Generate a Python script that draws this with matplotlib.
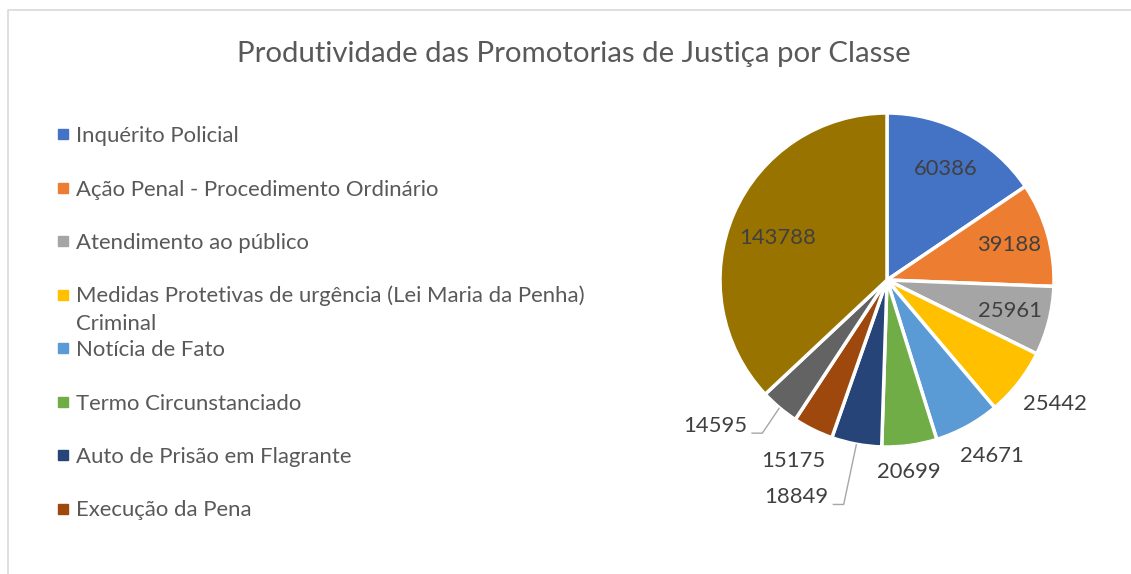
import numpy as np
import matplotlib.pyplot as plt

# dados
categorias = [
    "Inquérito Policial",
    "Ação Penal - Procedimento Ordinário",
    "Atendimento ao público",
    "Medidas Protetivas de urgência (Lei Maria da Penha)\nCriminal",
    "Notícia de Fato",
    "Termo Circunstanciado",
    "Auto de Prisão em Flagrante",
    "Execução da Pena",
    "Categoria 9",
    "Categoria 10",
]
valores = [60386, 39188, 25961, 25442, 24671, 20699, 18849, 15175, 14595, 143788]
cores = ["#4472C4", "#ED7D31", "#A5A5A5", "#FFC000", "#5B9BD5",
         "#70AD47", "#264478", "#9E480E", "#636363", "#997300"]
n_legenda = 8  # only the first 8 entries fit in the legend box

W, H = 1131, 574
fonte = "Lato"

fig = plt.figure(figsize=(W / 100, H / 100), dpi=100)
ax = fig.add_axes([0, 0, 1, 1])

# pie in pixel coordinates (y up)
cx, cy, R = 887, H - 280, 167
wedges, _ = ax.pie(valores, colors=cores, startangle=90, counterclock=False,
                   center=(cx, cy), radius=R,
                   wedgeprops=dict(edgecolor="white", linewidth=2.5))
ax.set_xlim(0, W)
ax.set_ylim(0, H)
ax.set_aspect("equal")
ax.axis("off")

# label placement: (radius factor, angle offset in degrees, leader line)
coloc = [(0.75, 0, False), (0.76, 0, False), (0.76, 0, False),
         (1.25, 1.5, False), (1.23, 2, False), (1.16, -1.3, False),
         (1.41, -12, True), (1.22, -1, False), (1.35, -9.5, True),
         (0.70, 2.5, False)]

for w, v, (f, da, linha) in zip(wedges, valores, coloc):
    meio = (w.theta1 + w.theta2) / 2
    a = np.radians(meio + da)
    tx, ty = cx + f * R * np.cos(a), cy + f * R * np.sin(a)
    ax.text(tx, ty, str(v), ha="center", va="center", fontsize=15.8,
            family=fonte, color="#404040")
    if linha:
        am = np.radians(meio)
        x0, y0 = cx + R * np.cos(am), cy + R * np.sin(am)
        ax.plot([x0, tx + 47, tx + 36], [y0, ty - 7, ty - 7],
                color="#A6A6A6", lw=1, solid_capstyle="butt")

# title
ax.text(574, H - 62, "Produtividade das Promotorias de Justiça por Classe",
        ha="center", va="baseline", fontsize=21.2, family=fonte, color="#595959")

# legend drawn by hand (Excel style, truncated)
y_linha = 134
for nome, cor in zip(categorias[:n_legenda], cores[:n_legenda]):
    yy = H - y_linha
    ax.plot(62.5, yy, marker="s", ms=6.5, color=cor, mec=cor, ls="none")
    for i, parte in enumerate(nome.split("\n")):
        ax.text(76, yy - 8 - 28 * i, parte, ha="left", va="baseline",
                fontsize=15.9, family=fonte, color="#595959")
    y_linha += 53.5

# chart frame
ax.plot([8, 8, W], [0, H - 10, H - 10], color="#D9D9D9", lw=1.2)

fig.savefig("out.png", dpi=100)
